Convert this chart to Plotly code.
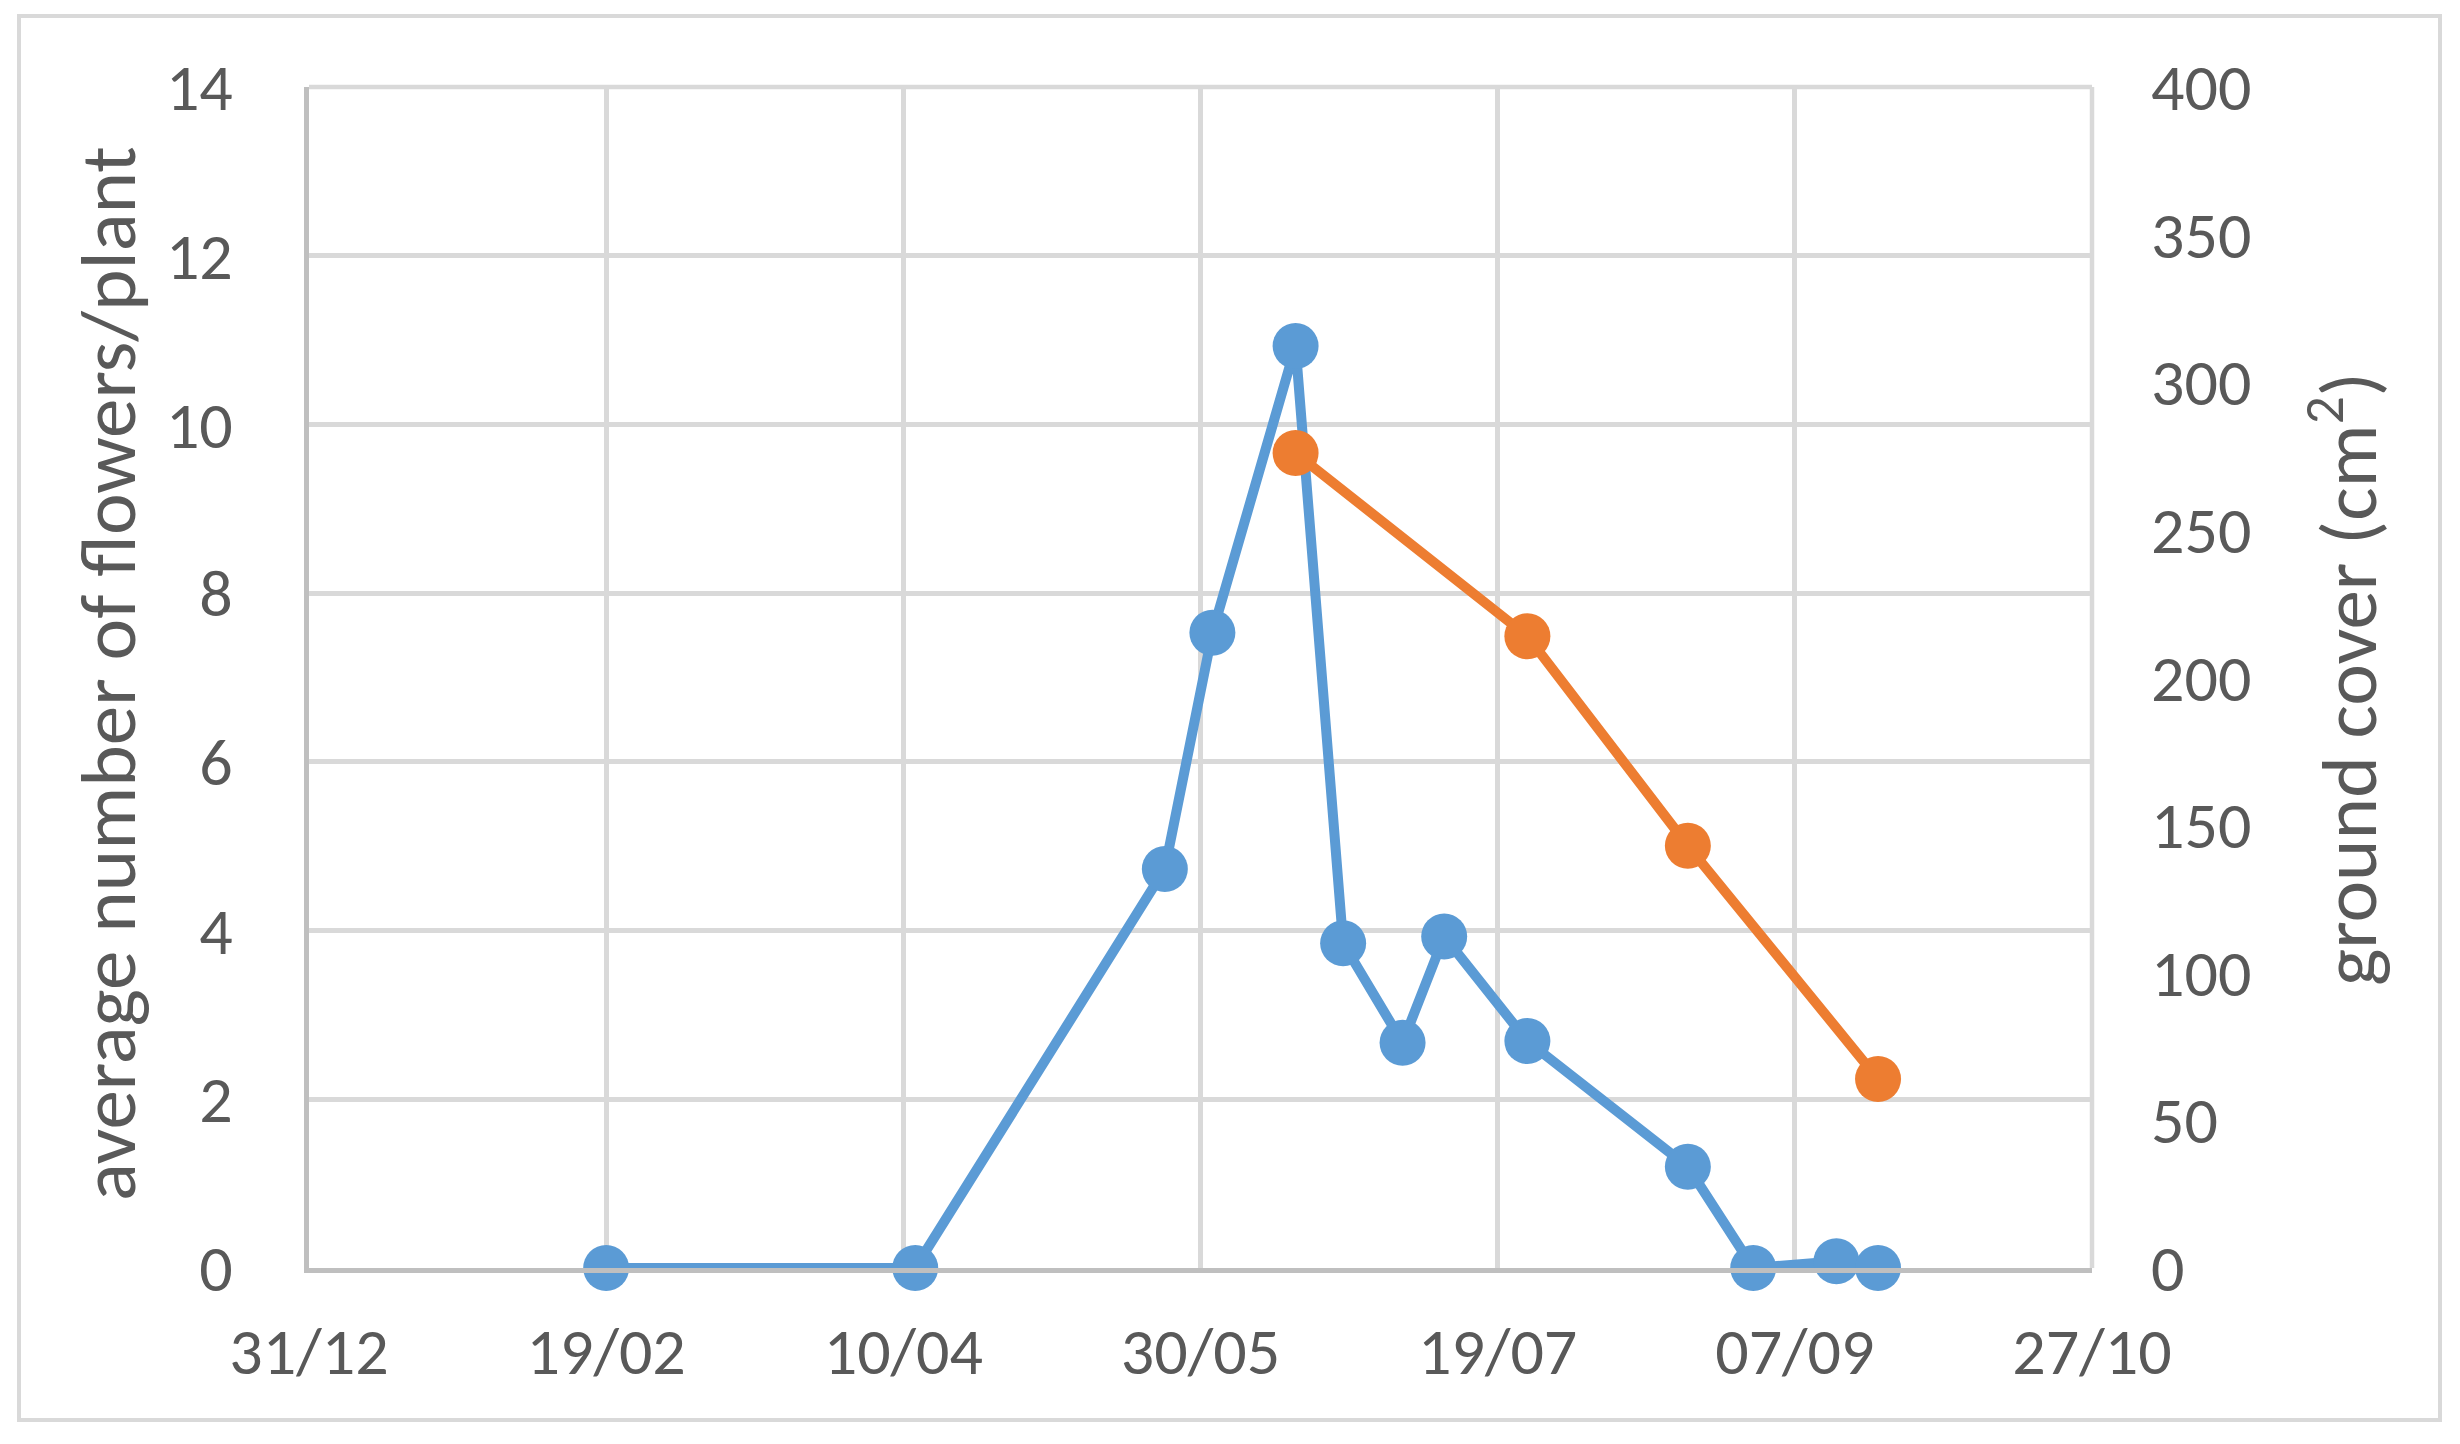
import plotly.graph_objects as go

# ---- data ----
flower_dates = ["2018-02-19", "2018-04-12", "2018-05-24", "2018-06-01", "2018-06-15",
                "2018-06-23", "2018-07-03", "2018-07-10", "2018-07-24", "2018-08-20",
                "2018-08-31", "2018-09-14", "2018-09-21"]
flowers = [0, 0, 4.73, 7.53, 10.93, 3.85, 2.67, 3.93, 2.69, 1.2, 0, 0.08, 0]

cover_dates = ["2018-06-15", "2018-07-24", "2018-08-20", "2018-09-21"]
cover = [276, 214, 143, 64]

left_ticks = [0, 2, 4, 6, 8, 10, 12, 14]
right_ticks = [0, 50, 100, 150, 200, 250, 300, 350, 400]

BLUE = "#5B9BD5"
ORANGE = "#ED7D31"
TXT = "#595959"
GRID = "#D9D9D9"
AXIS = "#BFBFBF"
FONT = "Carlito, Calibri, Lato, sans-serif"

OFF = 8  # page body margin
W, H = 2460 - OFF, 1444 - OFF
L, R, T, B = 309 - OFF, 2092 - OFF, 87 - OFF, 1268 - OFF

fig = go.Figure()
fig.add_trace(go.Scatter(x=flower_dates, y=flowers, mode="lines+markers",
                         line=dict(color=BLUE, width=10),
                         marker=dict(color=BLUE, size=46), yaxis="y",
                         cliponaxis=False, showlegend=False))
fig.add_trace(go.Scatter(x=cover_dates, y=cover, mode="lines+markers",
                         line=dict(color=ORANGE, width=10),
                         marker=dict(color=ORANGE, size=46), yaxis="y2",
                         cliponaxis=False, showlegend=False))

def px2paper_x(px):
    return (px - OFF - L) / (R - L)

def px2paper_y(py):
    return (B - (py - OFF)) / (B - T)

fig.update_layout(
    width=W, height=H,
    margin=dict(l=L, r=W - R, t=T, b=H - B, pad=0),
    paper_bgcolor="white", plot_bgcolor="white",
    font=dict(family=FONT, color=TXT, size=66),
    xaxis=dict(type="date", range=["2017-12-31", "2018-10-27"],
               tick0="2017-12-31", dtick=50 * 86400000, tickformat="%d/%m",
               showgrid=True, gridcolor=GRID, gridwidth=4.5,
               showline=True, linecolor=AXIS, linewidth=5,
               ticks="", ticklabelstandoff=22, zeroline=False,
               tickfont=dict(size=66, color=TXT, family=FONT)),
    yaxis=dict(range=[0, 14], tickvals=left_ticks, showgrid=True,
               gridcolor=GRID, gridwidth=4.5, showline=True, linecolor=AXIS,
               linewidth=5, zeroline=False, ticks="", ticklabelstandoff=58,
               tickfont=dict(size=66, color=TXT, family=FONT)),
    yaxis2=dict(range=[0, 400], tickvals=right_ticks, overlaying="y", side="right",
                showgrid=False, showline=False, zeroline=False, ticks="",
                ticklabelstandoff=58,
                tickfont=dict(size=66, color=TXT, family=FONT)),
    shapes=[dict(type="rect", xref="paper", yref="paper",
                 x0=px2paper_x(19), x1=px2paper_x(2440),
                 y0=px2paper_y(1420), y1=px2paper_y(16),
                 line=dict(color=GRID, width=4), fillcolor="rgba(0,0,0,0)", layer="below"),
            dict(type="line", xref="paper", yref="paper", x0=1, x1=1, y0=0, y1=1,
                 line=dict(color=GRID, width=4.5), layer="below"),
            dict(type="line", xref="paper", yref="paper", x0=0, x1=1, y0=1, y1=1,
                 line=dict(color=GRID, width=4.5), layer="below")],
    annotations=[
        dict(text="average number of flowers/plant", xref="paper", yref="paper",
             x=px2paper_x(108), y=px2paper_y(674), xanchor="center", yanchor="middle",
             textangle=-90, showarrow=False, font=dict(size=79, color=TXT, family=FONT)),
        dict(text="ground cover (cm<sup>2</sup>)", xref="paper", yref="paper",
             x=px2paper_x(2343), y=px2paper_y(679), xanchor="center", yanchor="middle",
             textangle=-90, showarrow=False, font=dict(size=79, color=TXT, family=FONT)),
    ],
)

fig.write_html("out.html")
